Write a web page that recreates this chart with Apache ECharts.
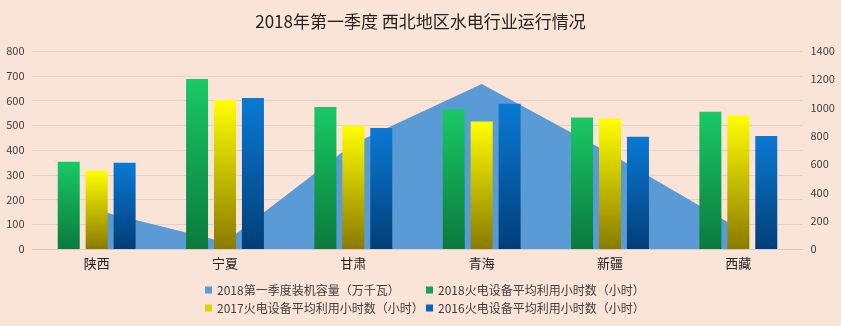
<!DOCTYPE html>
<html>
<head>
<meta charset="utf-8">
<style>
  html, body { margin: 0; padding: 0; background: #FAE4D8; }
  #chart { width: 841px; height: 326px; }
</style>
<script src="https://cdn.jsdelivr.net/npm/echarts@6/dist/echarts.min.js"></script>
</head>
<body>
<div id="chart"></div>
<script>
// Provinces along the category axis
const categories = ['陕西', '宁夏', '甘肃', '青海', '新疆', '西藏'];

// Installed hydro capacity, Q1 2018 (10k kW) — right axis
const capacity2018 = [274, 48, 745, 1167, 676, 146];

// Average utilisation hours of thermal equipment — left axis
const hours2018 = [353, 687, 574, 565, 531, 555];
const hours2017 = [317, 602, 499, 515, 527, 539];
const hours2016 = [348, 610, 489, 587, 454, 457];

// Axis ticks
const leftTicks = { min: 0, max: 800, interval: 100 };
const rightTicks = { min: 0, max: 1400, interval: 200 };

const names = [
  '2018第一季度装机容量（万千瓦）',
  '2018火电设备平均利用小时数（小时）',
  '2017火电设备平均利用小时数（小时）',
  '2016火电设备平均利用小时数（小时）'
];

const FONT = '"Noto Sans CJK SC", "Noto Sans", sans-serif';

function vGrad(top, bottom) {
  return new echarts.graphic.LinearGradient(0, 0, 0, 1, [
    { offset: 0, color: top },
    { offset: 1, color: bottom }
  ]);
}

const legendBase = {
  orient: 'horizontal',
  padding: 0,
  itemWidth: 7,
  itemHeight: 7,
  itemGap: 5,
  icon: 'rect',
  textStyle: { fontFamily: FONT, fontSize: 12, color: '#404040' }
};

const chart = echarts.init(document.getElementById('chart'));
chart.setOption({
  backgroundColor: '#FAE4D8',
  animation: false,
  title: {
    text: '2018年第一季度 西北地区水电行业运行情况',
    left: 'center',
    top: 8,
    textStyle: { fontFamily: FONT, fontSize: 17, fontWeight: 'normal', color: '#222' }
  },
  legend: [
    Object.assign({}, legendBase, { left: 205, top: 284, data: [{ name: names[0], itemStyle: { color: '#5B9BD5' } }] }),
    Object.assign({}, legendBase, { left: 426, top: 284, data: [{ name: names[1], itemStyle: { color: '#14A552' } }] }),
    Object.assign({}, legendBase, { left: 205, top: 302, data: [{ name: names[2], itemStyle: { color: '#E0D000' } }] }),
    Object.assign({}, legendBase, { left: 426, top: 302, data: [{ name: names[3], itemStyle: { color: '#0565B5' } }] })
  ],
  grid: { left: 32.5, right: 38.5, top: 51, bottom: 77, containLabel: false },
  xAxis: {
    type: 'category',
    data: categories,
    boundaryGap: true,
    axisLine: { show: true, lineStyle: { color: '#D9CCC4' } },
    axisTick: { show: false },
    axisLabel: { fontFamily: FONT, fontSize: 13, color: '#222', margin: 8 }
  },
  yAxis: [
    {
      type: 'value',
      min: leftTicks.min, max: leftTicks.max, interval: leftTicks.interval,
      axisLine: { show: false },
      axisTick: { show: false },
      axisLabel: { fontFamily: FONT, fontSize: 11, color: '#404040', margin: 8, formatter: v => String(v) },
      splitLine: { lineStyle: { color: '#E3D2C8', width: 1 } }
    },
    {
      type: 'value',
      min: rightTicks.min, max: rightTicks.max, interval: rightTicks.interval,
      axisLine: { show: false },
      axisTick: { show: false },
      axisLabel: { fontFamily: FONT, fontSize: 11, color: '#404040', margin: 8, formatter: v => String(v) },
      splitLine: { show: false }
    }
  ],
  series: [
    {
      name: names[0],
      type: 'line',
      yAxisIndex: 1,
      data: capacity2018,
      symbol: 'none',
      lineStyle: { width: 0, color: '#5B9BD5' },
      itemStyle: { color: '#5B9BD5' },
      areaStyle: { color: '#5B9BD5', opacity: 1 },
      z: 1
    },
    {
      name: names[1],
      type: 'bar',
      data: hours2018,
      barWidth: 22,
      barGap: '27%',
      itemStyle: { color: vGrad('#19C965', '#0A7A3C') },
      z: 3
    },
    {
      name: names[2],
      type: 'bar',
      data: hours2017,
      barWidth: 22,
      barGap: '27%',
      itemStyle: { color: vGrad('#FFFF00', '#8A7A00') },
      z: 3
    },
    {
      name: names[3],
      type: 'bar',
      data: hours2016,
      barWidth: 22,
      barGap: '27%',
      itemStyle: { color: vGrad('#0A7AD4', '#023E78') },
      z: 3
    }
  ]
});
</script>
</body>
</html>
